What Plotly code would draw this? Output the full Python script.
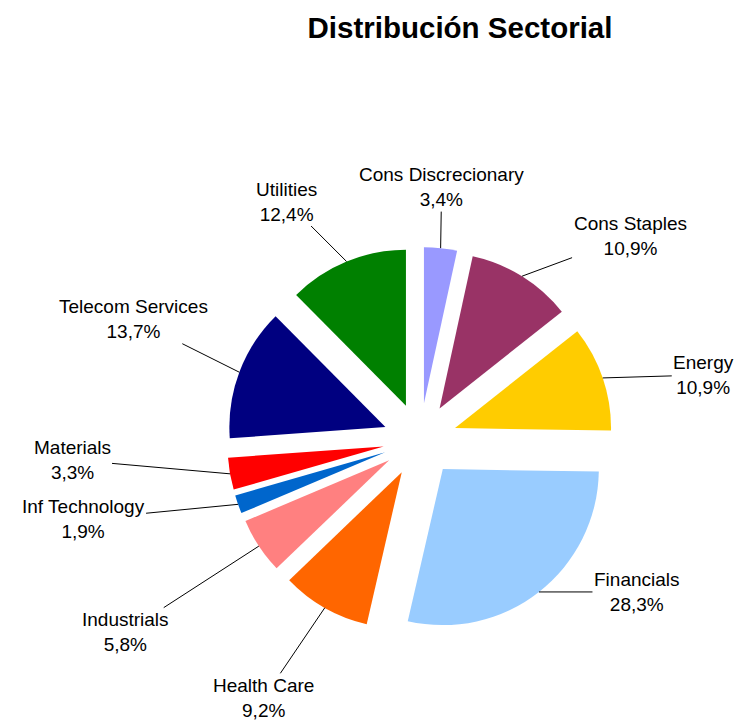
import math
import plotly.graph_objects as go

# ---- data ----
sectors = ["Cons Discrecionary", "Cons Staples", "Energy", "Financials", "Health Care",
           "Industrials", "Inf Technology", "Materials", "Telecom Services", "Utilities"]
weights = [3.4, 10.9, 10.9, 28.3, 9.2, 5.8, 1.9, 3.3, 13.7, 12.4]

# ---- style ----
colors = ["#9999FF", "#993366", "#FFCC00", "#99CCFF", "#FF6600",
          "#FF8080", "#0066CC", "#FF0000", "#000080", "#008000"]
# label offsets (pixels) from the slice's outer edge to the label centre
label_dx = [1, 108, 101, 98, -61, -133, -155, -158, -106, -60]
label_dy = [-61, -40, -3, 0, 90, 86, 15, -14, -53, -60]

W, H = 737, 722
FONT = "Liberation Sans, Arial, sans-serif"
PULL = 0.237
dom_x = [0.308, 0.8318]
dom_y = [0.1233, 0.6579]

fig = go.Figure(go.Pie(
    labels=sectors, values=weights, sort=False, direction="clockwise", rotation=0,
    marker=dict(colors=colors, line=dict(width=0)), pull=PULL,
    textinfo="none", hoverinfo="label+percent", showlegend=False,
    domain=dict(x=dom_x, y=dom_y),
))

# geometry derived from the pie domain
cx = (dom_x[0] + dom_x[1]) / 2 * W
cy = (1 - (dom_y[0] + dom_y[1]) / 2) * H
R = min((dom_x[1] - dom_x[0]) * W, (dom_y[1] - dom_y[0]) * H) / 2  # r*(1+pull)
total = sum(weights)
cum = 0.0
annotations = []
for name, v, dx, dy in zip(sectors, weights, label_dx, label_dy):
    mid = (cum + v / 2) / total * 2 * math.pi
    cum += v
    px = cx + R * math.sin(mid)
    py = cy - R * math.cos(mid)
    txt = f"{name}<br>{v:.1f}".replace(".", ",") + "%"
    annotations.append(dict(
        x=px / W, y=1 - py / H, xref="paper", yref="paper",
        text=txt, showarrow=True, ax=dx, ay=dy, arrowhead=0, arrowwidth=1,
        arrowcolor="black", standoff=0, startstandoff=0,
        font=dict(family=FONT, size=19, color="black"), align="center",
    ))

fig.update_layout(
    width=W, height=H, margin=dict(l=0, r=0, t=0, b=0),
    paper_bgcolor="white", plot_bgcolor="white",
    title=dict(text="<b>Distribución Sectorial</b>", x=460 / W, xanchor="center",
               y=1 - 28 / H, yanchor="middle", yref="container",
               font=dict(family=FONT, size=29.5, color="black")),
    annotations=annotations,
)

fig.write_html("out.html", config={"displayModeBar": False},
               post_script="document.body.style.margin='0';document.body.style.overflow='hidden';")
